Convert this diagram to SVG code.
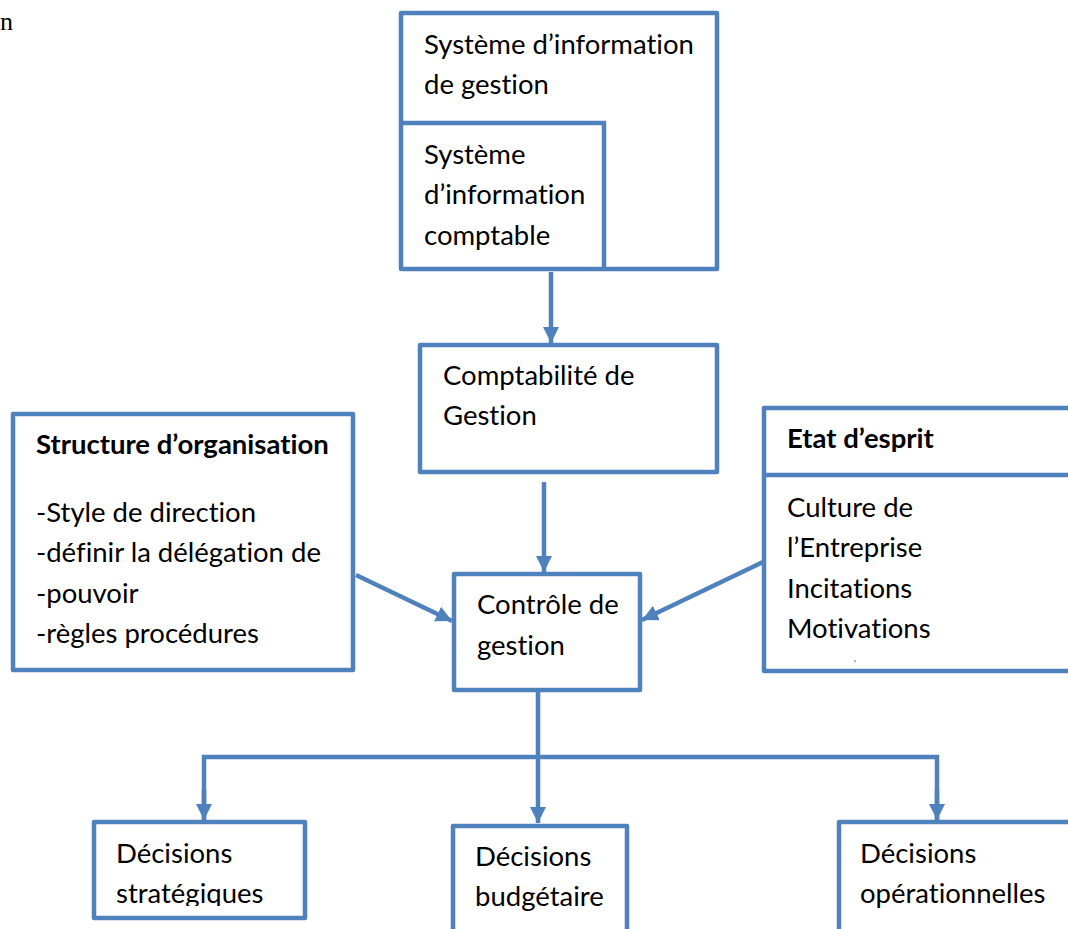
<svg xmlns="http://www.w3.org/2000/svg" width="1068" height="929" viewBox="0 0 1068 929">
  <style>
    .box { fill: #ffffff; stroke: #4f81bd; stroke-width: 4.5; stroke-linejoin: round; }
    .sep { fill: none; stroke: #4f81bd; stroke-width: 4.5; }
    .wire { fill: none; stroke: #4f81bd; stroke-width: 4.5; }
    .t { font-family: Lato, "Open Sans", sans-serif; font-size: 27.5px; fill: #000000; font-variant-ligatures: none; }
    .b { font-weight: bold; }
  </style>
  <defs>
    <marker id="head" markerUnits="userSpaceOnUse" markerWidth="18" markerHeight="18" viewBox="0 0 18 18" refX="16" refY="9" orient="auto">
      <path d="M0,1 L16,9 L0,17 Z" fill="#4f81bd"/>
    </marker>
    <clipPath id="strat-clip">
      <rect x="94" y="822" width="211" height="84"/>
    </clipPath>
  </defs>

  <text x="0" y="30" style="font-family: 'Liberation Serif', serif; font-size: 26px; fill: #000;">n</text>

  <!-- information systems -->
  <g id="sig">
    <rect class="box" x="401" y="13" width="316" height="256"/>
    <path class="sep" d="M401,123 L604,123 L604,269"/>
    <text class="t" x="424" y="54">Système d’information</text>
    <text class="t" x="424" y="94">de gestion</text>
    <text class="t" x="424" y="164">Système</text>
    <text class="t" x="424" y="204">d’information</text>
    <text class="t" x="424" y="245">comptable</text>
  </g>

  <g id="comptabilite">
    <rect class="box" x="420" y="345" width="297" height="127"/>
    <text class="t" x="443" y="385">Comptabilité de</text>
    <text class="t" x="443" y="425">Gestion</text>
  </g>

  <g id="controle">
    <rect class="box" x="454" y="574" width="186" height="116"/>
    <text class="t" x="477" y="614">Contrôle de</text>
    <text class="t" x="477" y="655">gestion</text>
  </g>

  <g id="structure">
    <rect class="box" x="13" y="414" width="340" height="256"/>
    <text class="t b" x="36" y="454">Structure d’organisation</text>
    <text class="t" x="36" y="522">-Style de direction</text>
    <text class="t" x="36" y="562">-définir la délégation de</text>
    <text class="t" x="36" y="603">-pouvoir</text>
    <text class="t" x="36" y="643">-règles procédures</text>
  </g>

  <g id="etat">
    <rect class="box" x="764" y="408" width="320" height="263"/>
    <line class="sep" x1="764" y1="475" x2="1068" y2="475"/>
    <text class="t b" x="787" y="448">Etat d’esprit</text>
    <text class="t" x="787" y="517">Culture de</text>
    <text class="t" x="787" y="557">l’Entreprise</text>
    <text class="t" x="787" y="598">Incitations</text>
    <text class="t" x="787" y="638">Motivations</text>
    <circle cx="855" cy="661" r="0.9" fill="#999999"/>
  </g>

  <g id="strategiques">
    <rect class="box" x="94" y="822" width="211" height="96"/>
    <g clip-path="url(#strat-clip)">
      <text class="t" x="116" y="863">Décisions</text>
      <text class="t" x="116" y="903">stratégiques</text>
    </g>
  </g>

  <g id="budgetaire">
    <rect class="box" x="453" y="826" width="174" height="120"/>
    <text class="t" x="475" y="866">Décisions</text>
    <text class="t" x="475" y="906">budgétaire</text>
  </g>

  <g id="operationnelles">
    <rect class="box" x="839" y="822" width="250" height="120"/>
    <text class="t" x="860" y="863">Décisions</text>
    <text class="t" x="860" y="903">opérationnelles</text>
  </g>

  <g id="connectors">
    <line class="wire" x1="551" y1="272" x2="551" y2="343" marker-end="url(#head)"/>
    <line class="wire" x1="544" y1="482" x2="544" y2="572" marker-end="url(#head)"/>
    <line class="wire" x1="356" y1="575" x2="452" y2="621" marker-end="url(#head)"/>
    <line class="wire" x1="763" y1="562" x2="642" y2="620" marker-end="url(#head)"/>
    <line class="wire" x1="538" y1="692" x2="538" y2="823" marker-end="url(#head)"/>
    <path class="wire" d="M204,820 L204,757 L937,757 L937,820" />
    <line class="wire" x1="204" y1="790" x2="204" y2="820" marker-end="url(#head)"/>
    <line class="wire" x1="937" y1="790" x2="937" y2="820" marker-end="url(#head)"/>
  </g>
</svg>
